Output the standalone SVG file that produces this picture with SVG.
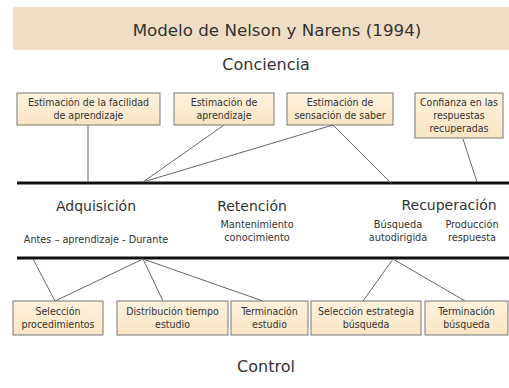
<svg xmlns="http://www.w3.org/2000/svg" width="509" height="388" viewBox="0 0 509 388">
<defs>
<linearGradient id="bx" x1="0" y1="0" x2="0" y2="1"><stop offset="0" stop-color="#fdf1dc"/><stop offset="1" stop-color="#f9e5c4"/></linearGradient>
<style>
.box{fill:url(#bx);stroke:#777;stroke-width:1}
.bt{font-family:"DejaVu Sans Condensed","DejaVu Sans",sans-serif;font-size:10.5px;fill:#333;text-anchor:middle}
.h{font-family:"DejaVu Sans",sans-serif;font-size:14px;fill:#333;text-anchor:middle}
.s{font-family:"DejaVu Sans Condensed","DejaVu Sans",sans-serif;font-size:10.8px;fill:#333;text-anchor:middle}
.c{stroke:#666;stroke-width:1;fill:none}
.bar{stroke:#111;stroke-width:3}
</style>
</defs>
<rect x="13" y="7" width="496" height="43" fill="#efdec4"/>
<text x="277" y="36" class="h" style="font-size:16.7px">Modelo de Nelson y Narens (1994)</text>
<text x="266" y="70" class="h" style="font-size:16px">Conciencia</text>

<g id="connectors">
<line class="bar" x1="17" y1="183" x2="509" y2="183"/>
<line class="bar" x1="17" y1="258" x2="509" y2="258"/>
<line class="c" x1="88" y1="125" x2="88" y2="182"/>
<line class="c" x1="224" y1="125" x2="143" y2="182"/>
<line class="c" x1="333" y1="125" x2="143" y2="182"/>
<line class="c" x1="333" y1="125" x2="390" y2="182"/>
<line class="c" x1="463" y1="139" x2="477" y2="182"/>
<line class="c" x1="33" y1="259" x2="55" y2="301"/>
<line class="c" x1="143" y1="259" x2="55" y2="301"/>
<line class="c" x1="143" y1="259" x2="163" y2="301"/>
<line class="c" x1="143" y1="259" x2="263" y2="301"/>
<line class="c" x1="393" y1="259" x2="363" y2="301"/>
<line class="c" x1="393" y1="259" x2="465" y2="301"/>
</g>

<g id="n1"><rect class="box" x="17" y="93" width="143" height="32"/><text class="bt" x="88.5" y="106">Estimación de la facilidad</text><text class="bt" x="88.5" y="119">de aprendizaje</text></g>
<g id="n2"><rect class="box" x="174" y="93" width="100" height="32"/><text class="bt" x="224" y="106">Estimación de</text><text class="bt" x="224" y="119">aprendizaje</text></g>
<g id="n3"><rect class="box" x="287" y="93" width="106" height="32"/><text class="bt" x="340" y="106">Estimación de</text><text class="bt" x="340" y="119">sensación de saber</text></g>
<g id="n4"><rect class="box" x="415" y="93" width="88" height="45"/><text class="bt" x="459" y="106">Confianza en las</text><text class="bt" x="459" y="119">respuestas</text><text class="bt" x="459" y="132">recuperadas</text></g>

<g id="adq"><text class="h" x="96" y="211">Adquisición</text><text class="s" x="96" y="243">Antes – aprendizaje - Durante</text></g>
<g id="ret"><text class="h" x="252" y="211">Retención</text><text class="s" x="257" y="228">Mantenimiento</text><text class="s" x="257" y="241">conocimiento</text></g>
<g id="rec"><text class="h" x="449" y="210">Recuperación</text><text class="s" x="398" y="228">Búsqueda</text><text class="s" x="398" y="241">autodirigida</text><text class="s" x="472" y="228">Producción</text><text class="s" x="472" y="241">respuesta</text></g>

<g id="b1"><rect class="box" x="13" y="301" width="90" height="34"/><text class="bt" x="58" y="315">Selección</text><text class="bt" x="58" y="328">procedimientos</text></g>
<g id="b2"><rect class="box" x="117" y="301" width="111" height="34"/><text class="bt" x="172.5" y="315">Distribución tiempo</text><text class="bt" x="172.5" y="328">estudio</text></g>
<g id="b3"><rect class="box" x="231" y="301" width="77" height="34"/><text class="bt" x="269.5" y="315">Terminación</text><text class="bt" x="269.5" y="328">estudio</text></g>
<g id="b4"><rect class="box" x="311" y="301" width="110" height="34"/><text class="bt" x="366" y="315">Selección estrategia</text><text class="bt" x="366" y="328">búsqueda</text></g>
<g id="b5"><rect class="box" x="425" y="301" width="83" height="34"/><text class="bt" x="466.5" y="315">Terminación</text><text class="bt" x="466.5" y="328">búsqueda</text></g>

<text class="h" x="266" y="372" style="font-size:16px">Control</text>
</svg>
